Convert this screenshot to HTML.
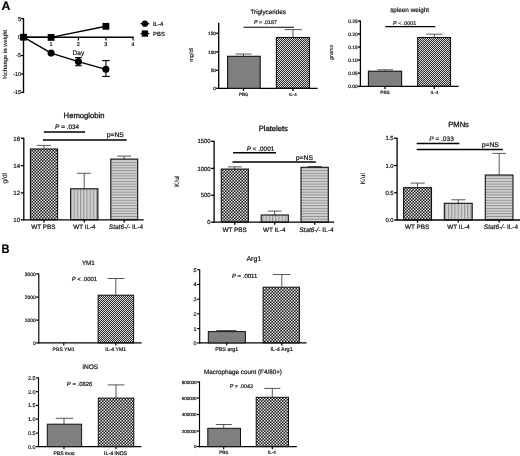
<!DOCTYPE html>
<html lang="en">
<head>
<meta charset="utf-8">
<title>Figure: IL-4 treatment effects</title>
<style>
html,body{margin:0;padding:0;background:#fff;}
body{width:520px;height:456px;overflow:hidden;}
svg text{stroke:#111;stroke-width:0.2px;stroke-linejoin:round;}
svg .ink{filter:blur(0.35px);}
svg .pat{filter:blur(0.18px);}
svg{display:block;font-family:'Liberation Sans', sans-serif;}
</style>
</head>
<body>
<svg width="520" height="456" viewBox="0 0 520 456" text-rendering="geometricPrecision">
<rect width="520" height="456" fill="#ffffff"/>
<defs>
<pattern id="ck1" width="2" height="2" patternUnits="userSpaceOnUse"><rect width="2" height="2" fill="#303030"/><rect x="0" y="0" width="1" height="1" fill="#d6d6d6"/><rect x="1" y="1" width="1" height="1" fill="#d6d6d6"/></pattern>
<pattern id="ck2" width="3" height="3" patternUnits="userSpaceOnUse"><rect width="3" height="3" fill="#1c1c1c"/><rect x="0" y="0" width="1.45" height="1.45" fill="#f0f0f0"/><rect x="1.5" y="1.5" width="1.45" height="1.45" fill="#f0f0f0"/></pattern>
<pattern id="vl" width="3.2" height="3.2" patternUnits="userSpaceOnUse"><rect width="3.2" height="3.2" fill="#d0d0d0"/><rect x="0" y="0" width="1.1" height="3.2" fill="#969696"/></pattern>
<pattern id="hl" width="2.7" height="2.7" patternUnits="userSpaceOnUse"><rect width="2.7" height="2.7" fill="#d2d2d2"/><rect x="0" y="0" width="2.7" height="0.95" fill="#909090"/></pattern>
</defs>
<g class="pat"><rect x="276.40" y="37.50" width="33.10" height="50.80" fill="url(#ck1)"/>
<rect x="417.70" y="37.50" width="32.80" height="48.90" fill="url(#ck1)"/>
<rect x="30.40" y="149.00" width="27.20" height="70.80" fill="url(#ck2)"/>
<rect x="70.60" y="188.80" width="27.30" height="31.00" fill="url(#vl)"/>
<rect x="110.80" y="159.10" width="26.90" height="60.70" fill="url(#hl)"/>
<rect x="221.30" y="169.10" width="27.10" height="53.10" fill="url(#ck2)"/>
<rect x="261.20" y="215.00" width="27.10" height="7.20" fill="url(#vl)"/>
<rect x="301.00" y="167.30" width="27.30" height="54.90" fill="url(#hl)"/>
<rect x="403.60" y="187.70" width="27.90" height="32.30" fill="url(#ck2)"/>
<rect x="444.30" y="203.30" width="27.90" height="16.70" fill="url(#vl)"/>
<rect x="485.30" y="175.00" width="27.70" height="45.00" fill="url(#hl)"/>
<rect x="98.10" y="295.20" width="35.50" height="47.70" fill="url(#ck1)"/>
<rect x="263.10" y="287.20" width="36.30" height="55.70" fill="url(#ck2)"/>
<rect x="98.30" y="398.10" width="35.50" height="48.50" fill="url(#ck2)"/>
<rect x="256.20" y="397.30" width="32.30" height="49.30" fill="url(#ck2)"/></g>
<g class="ink"><text x="1.5" y="9.75" font-size="12.3" font-weight="bold" fill="#000">A</text>
<text transform="translate(1.4 252.55) scale(0.9 1)" font-size="12.3" font-weight="bold" fill="#000">B</text>
<line x1="23.50" y1="18.00" x2="23.50" y2="93.00" stroke="#000" stroke-width="1.4" stroke-linecap="butt"/>
<line x1="20.80" y1="18.60" x2="23.50" y2="18.60" stroke="#000" stroke-width="1.2" stroke-linecap="butt"/>
<text x="21.10" y="20.58" font-size="5.5" text-anchor="end" fill="#111">5</text>
<line x1="20.80" y1="37.20" x2="23.50" y2="37.20" stroke="#000" stroke-width="1.2" stroke-linecap="butt"/>
<text x="21.10" y="39.18" font-size="5.5" text-anchor="end" fill="#111">0</text>
<line x1="20.80" y1="55.50" x2="23.50" y2="55.50" stroke="#000" stroke-width="1.2" stroke-linecap="butt"/>
<text x="21.10" y="57.48" font-size="5.5" text-anchor="end" fill="#111">-5</text>
<line x1="20.80" y1="74.00" x2="23.50" y2="74.00" stroke="#000" stroke-width="1.2" stroke-linecap="butt"/>
<text x="21.10" y="75.98" font-size="5.5" text-anchor="end" fill="#111">-10</text>
<line x1="20.80" y1="92.40" x2="23.50" y2="92.40" stroke="#000" stroke-width="1.2" stroke-linecap="butt"/>
<text x="21.10" y="94.38" font-size="5.5" text-anchor="end" fill="#111">-15</text>
<line x1="23.00" y1="37.20" x2="133.70" y2="37.20" stroke="#000" stroke-width="1.4" stroke-linecap="butt"/>
<line x1="51.10" y1="37.20" x2="51.10" y2="40.40" stroke="#000" stroke-width="1.2" stroke-linecap="butt"/>
<text x="51.10" y="45.88" font-size="5.5" text-anchor="middle" fill="#111">1</text>
<line x1="78.40" y1="37.20" x2="78.40" y2="40.40" stroke="#000" stroke-width="1.2" stroke-linecap="butt"/>
<text x="78.40" y="45.88" font-size="5.5" text-anchor="middle" fill="#111">2</text>
<line x1="105.90" y1="37.20" x2="105.90" y2="40.40" stroke="#000" stroke-width="1.2" stroke-linecap="butt"/>
<text x="105.90" y="45.88" font-size="5.5" text-anchor="middle" fill="#111">3</text>
<line x1="133.10" y1="37.20" x2="133.10" y2="40.40" stroke="#000" stroke-width="1.2" stroke-linecap="butt"/>
<text x="133.10" y="45.88" font-size="5.5" text-anchor="middle" fill="#111">4</text>
<text x="78.40" y="55.04" font-size="6.5" text-anchor="middle" fill="#111">Day</text>
<text transform="translate(6.72 54.50) rotate(-90)" style="stroke-width:0.1px" font-size="5.9" text-anchor="middle" fill="#111">%change in weight</text>
<polyline fill="none" stroke="#000" stroke-width="1.4" points="23.5,37.2 51.1,53.1 78.4,61.6 105.9,69.3"/>
<line x1="78.40" y1="57.60" x2="78.40" y2="65.70" stroke="#000" stroke-width="1.1" stroke-linecap="butt"/>
<line x1="75.00" y1="57.60" x2="81.80" y2="57.60" stroke="#000" stroke-width="1.1" stroke-linecap="butt"/>
<line x1="75.00" y1="65.70" x2="81.80" y2="65.70" stroke="#000" stroke-width="1.1" stroke-linecap="butt"/>
<line x1="105.90" y1="60.60" x2="105.90" y2="76.40" stroke="#000" stroke-width="1.1" stroke-linecap="butt"/>
<line x1="102.10" y1="60.60" x2="109.80" y2="60.60" stroke="#000" stroke-width="1.1" stroke-linecap="butt"/>
<line x1="102.10" y1="76.40" x2="109.80" y2="76.40" stroke="#000" stroke-width="1.1" stroke-linecap="butt"/>
<circle cx="51.1" cy="53.1" r="3.55" fill="#000"/>
<circle cx="78.4" cy="61.6" r="3.55" fill="#000"/>
<circle cx="105.9" cy="69.3" r="3.55" fill="#000"/>
<polyline fill="none" stroke="#000" stroke-width="1.4" points="23.5,37.2 51.1,37.4 105.9,26.3"/>
<rect x="20.10" y="33.80" width="6.8" height="6.8" fill="#000"/>
<rect x="47.70" y="34.00" width="6.8" height="6.8" fill="#000"/>
<rect x="102.50" y="22.90" width="6.8" height="6.8" fill="#000"/>
<line x1="140.60" y1="23.70" x2="149.30" y2="23.70" stroke="#000" stroke-width="1.3" stroke-linecap="butt"/>
<circle cx="144.9" cy="23.7" r="3.15" fill="#000"/>
<text x="152.90" y="25.96" font-size="6.0" text-anchor="start" fill="#111">IL-4</text>
<line x1="140.60" y1="33.55" x2="149.30" y2="33.55" stroke="#000" stroke-width="1.3" stroke-linecap="butt"/>
<rect x="141.75" y="30.4" width="6.3" height="6.3" fill="#000"/>
<text x="153.10" y="35.72" font-size="5.9" text-anchor="start" fill="#111">PBS</text>
<line x1="218.70" y1="22.70" x2="218.70" y2="88.85" stroke="#000" stroke-width="1.3" stroke-linecap="butt"/>
<line x1="218.15" y1="88.30" x2="317.60" y2="88.30" stroke="#000" stroke-width="1.3" stroke-linecap="butt"/>
<line x1="216.10" y1="88.30" x2="218.70" y2="88.30" stroke="#000" stroke-width="1.3" stroke-linecap="butt"/>
<text x="215.90" y="89.99" font-size="4.7" text-anchor="end" fill="#111">0</text>
<line x1="216.10" y1="70.30" x2="218.70" y2="70.30" stroke="#000" stroke-width="1.3" stroke-linecap="butt"/>
<text x="215.90" y="71.99" font-size="4.7" text-anchor="end" fill="#111">50</text>
<line x1="216.10" y1="51.90" x2="218.70" y2="51.90" stroke="#000" stroke-width="1.3" stroke-linecap="butt"/>
<text x="215.90" y="53.59" font-size="4.7" text-anchor="end" fill="#111">100</text>
<line x1="216.10" y1="33.30" x2="218.70" y2="33.30" stroke="#000" stroke-width="1.3" stroke-linecap="butt"/>
<text x="215.90" y="34.99" font-size="4.7" text-anchor="end" fill="#111">150</text>
<line x1="243.50" y1="88.30" x2="243.50" y2="90.90" stroke="#000" stroke-width="1.3" stroke-linecap="butt"/>
<line x1="293.00" y1="88.30" x2="293.00" y2="90.90" stroke="#000" stroke-width="1.3" stroke-linecap="butt"/>
<text transform="translate(192.72 55.00) rotate(-90)" style="stroke-width:0.1px" font-size="5.6" text-anchor="middle" fill="#111">mg/dl</text>
<text x="268.20" y="13.77" font-size="6.3" text-anchor="middle" fill="#111">Triglycerides</text>
<text x="265.40" y="23.73" font-size="5.35" text-anchor="middle" fill="#111"><tspan font-style="italic">P</tspan> = .0187</text>
<line x1="243.50" y1="27.30" x2="294.00" y2="27.30" stroke="#000" stroke-width="1.05" stroke-linecap="butt"/>
<line x1="243.50" y1="54.00" x2="243.50" y2="56.20" stroke="#3a3a3a" stroke-width="0.85" stroke-linecap="butt"/>
<line x1="235.40" y1="54.00" x2="251.50" y2="54.00" stroke="#3a3a3a" stroke-width="0.85" stroke-linecap="butt"/>
<rect x="227.60" y="56.30" width="32.60" height="32.00" fill="#7f7f7f" stroke="#111" stroke-width="1.1"/>
<line x1="293.00" y1="29.60" x2="293.00" y2="37.50" stroke="#3a3a3a" stroke-width="0.85" stroke-linecap="butt"/>
<line x1="284.60" y1="29.60" x2="301.80" y2="29.60" stroke="#3a3a3a" stroke-width="0.85" stroke-linecap="butt"/>
<rect x="276.40" y="37.50" width="33.10" height="50.80" fill="none" stroke="#111" stroke-width="1.1"/>
<text x="243.50" y="95.66" font-size="4.6" text-anchor="middle" fill="#111">PBS</text>
<text x="293.00" y="95.58" font-size="4.4" text-anchor="middle" fill="#111">IL-4</text>
<line x1="360.40" y1="20.50" x2="360.40" y2="86.95" stroke="#000" stroke-width="1.3" stroke-linecap="butt"/>
<line x1="359.85" y1="86.40" x2="458.60" y2="86.40" stroke="#000" stroke-width="1.3" stroke-linecap="butt"/>
<line x1="357.80" y1="86.40" x2="360.40" y2="86.40" stroke="#000" stroke-width="1.3" stroke-linecap="butt"/>
<text x="357.60" y="88.13" font-size="4.8" text-anchor="end" fill="#111">0.00</text>
<line x1="357.80" y1="73.10" x2="360.40" y2="73.10" stroke="#000" stroke-width="1.3" stroke-linecap="butt"/>
<text x="357.60" y="74.83" font-size="4.8" text-anchor="end" fill="#111">0.05</text>
<line x1="357.80" y1="60.00" x2="360.40" y2="60.00" stroke="#000" stroke-width="1.3" stroke-linecap="butt"/>
<text x="357.60" y="61.73" font-size="4.8" text-anchor="end" fill="#111">0.10</text>
<line x1="357.80" y1="47.00" x2="360.40" y2="47.00" stroke="#000" stroke-width="1.3" stroke-linecap="butt"/>
<text x="357.60" y="48.73" font-size="4.8" text-anchor="end" fill="#111">0.15</text>
<line x1="357.80" y1="34.00" x2="360.40" y2="34.00" stroke="#000" stroke-width="1.3" stroke-linecap="butt"/>
<text x="357.60" y="35.73" font-size="4.8" text-anchor="end" fill="#111">0.20</text>
<line x1="357.80" y1="21.00" x2="360.40" y2="21.00" stroke="#000" stroke-width="1.3" stroke-linecap="butt"/>
<text x="357.60" y="22.73" font-size="4.8" text-anchor="end" fill="#111">0.25</text>
<line x1="385.00" y1="86.40" x2="385.00" y2="89.00" stroke="#000" stroke-width="1.3" stroke-linecap="butt"/>
<line x1="434.30" y1="86.40" x2="434.30" y2="89.00" stroke="#000" stroke-width="1.3" stroke-linecap="butt"/>
<text transform="translate(333.24 52.40) rotate(-90)" style="stroke-width:0.1px" font-size="5.4" text-anchor="middle" fill="#111" font-style="italic">grams</text>
<text x="409.60" y="11.79" font-size="6.35" text-anchor="middle" fill="#111">spleen weight</text>
<text x="404.60" y="24.53" font-size="5.35" text-anchor="middle" fill="#111"><tspan font-style="italic">P</tspan> &lt; .0001</text>
<line x1="385.30" y1="26.60" x2="435.30" y2="26.60" stroke="#000" stroke-width="1.05" stroke-linecap="butt"/>
<line x1="385.00" y1="69.80" x2="385.00" y2="71.20" stroke="#3a3a3a" stroke-width="0.85" stroke-linecap="butt"/>
<line x1="377.40" y1="69.80" x2="393.00" y2="69.80" stroke="#3a3a3a" stroke-width="0.85" stroke-linecap="butt"/>
<rect x="368.40" y="71.20" width="33.20" height="15.20" fill="#7f7f7f" stroke="#111" stroke-width="1.1"/>
<line x1="434.30" y1="34.20" x2="434.30" y2="37.50" stroke="#3a3a3a" stroke-width="0.85" stroke-linecap="butt"/>
<line x1="426.30" y1="34.20" x2="442.40" y2="34.20" stroke="#3a3a3a" stroke-width="0.85" stroke-linecap="butt"/>
<rect x="417.70" y="37.50" width="32.80" height="48.90" fill="none" stroke="#111" stroke-width="1.1"/>
<text x="385.00" y="93.69" font-size="4.7" text-anchor="middle" fill="#111">PBS</text>
<text x="434.30" y="93.62" font-size="4.5" text-anchor="middle" fill="#111">IL-4</text>
<line x1="23.80" y1="137.80" x2="23.80" y2="220.35" stroke="#000" stroke-width="1.3" stroke-linecap="butt"/>
<line x1="23.25" y1="219.80" x2="143.70" y2="219.80" stroke="#000" stroke-width="1.3" stroke-linecap="butt"/>
<line x1="20.80" y1="219.80" x2="23.80" y2="219.80" stroke="#000" stroke-width="1.3" stroke-linecap="butt"/>
<text x="20.10" y="222.03" font-size="6.2" text-anchor="end" fill="#111">10</text>
<line x1="20.80" y1="192.90" x2="23.80" y2="192.90" stroke="#000" stroke-width="1.3" stroke-linecap="butt"/>
<text x="20.10" y="195.13" font-size="6.2" text-anchor="end" fill="#111">12</text>
<line x1="20.80" y1="165.60" x2="23.80" y2="165.60" stroke="#000" stroke-width="1.3" stroke-linecap="butt"/>
<text x="20.10" y="167.83" font-size="6.2" text-anchor="end" fill="#111">14</text>
<line x1="20.80" y1="138.30" x2="23.80" y2="138.30" stroke="#000" stroke-width="1.3" stroke-linecap="butt"/>
<text x="20.10" y="140.53" font-size="6.2" text-anchor="end" fill="#111">16</text>
<line x1="44.00" y1="219.80" x2="44.00" y2="222.40" stroke="#000" stroke-width="1.3" stroke-linecap="butt"/>
<line x1="84.30" y1="219.80" x2="84.30" y2="222.40" stroke="#000" stroke-width="1.3" stroke-linecap="butt"/>
<line x1="124.20" y1="219.80" x2="124.20" y2="222.40" stroke="#000" stroke-width="1.3" stroke-linecap="butt"/>
<text transform="translate(6.68 178.30) rotate(-90)" style="stroke-width:0.1px" font-size="6.6" text-anchor="middle" fill="#111">g/dl</text>
<text x="84.00" y="117.85" font-size="7.65" text-anchor="middle" fill="#111" style="stroke-width:0.3px">Hemoglobin</text>
<text x="67.10" y="128.50" font-size="6.4" text-anchor="middle" fill="#111"><tspan font-style="italic">P</tspan> = .034</text>
<line x1="43.80" y1="131.90" x2="85.10" y2="131.90" stroke="#000" stroke-width="1.45" stroke-linecap="butt"/>
<line x1="42.90" y1="139.90" x2="126.70" y2="139.90" stroke="#000" stroke-width="1.45" stroke-linecap="butt"/>
<text x="115.30" y="137.25" font-size="6.8" text-anchor="middle" fill="#111">p=NS</text>
<line x1="44.00" y1="145.40" x2="44.00" y2="148.40" stroke="#3a3a3a" stroke-width="0.85" stroke-linecap="butt"/>
<line x1="36.80" y1="145.40" x2="50.80" y2="145.40" stroke="#3a3a3a" stroke-width="0.85" stroke-linecap="butt"/>
<rect x="30.40" y="149.00" width="27.20" height="70.80" fill="none" stroke="#111" stroke-width="1.1"/>
<line x1="84.20" y1="173.30" x2="84.20" y2="188.80" stroke="#3a3a3a" stroke-width="0.85" stroke-linecap="butt"/>
<line x1="77.00" y1="173.30" x2="90.80" y2="173.30" stroke="#3a3a3a" stroke-width="0.85" stroke-linecap="butt"/>
<rect x="70.60" y="188.80" width="27.30" height="31.00" fill="none" stroke="#111" stroke-width="1.1"/>
<line x1="124.20" y1="156.10" x2="124.20" y2="159.10" stroke="#3a3a3a" stroke-width="0.85" stroke-linecap="butt"/>
<line x1="117.20" y1="156.10" x2="131.10" y2="156.10" stroke="#3a3a3a" stroke-width="0.85" stroke-linecap="butt"/>
<rect x="110.80" y="159.10" width="26.90" height="60.70" fill="none" stroke="#111" stroke-width="1.1"/>
<text x="43.40" y="229.20" font-size="6.4" text-anchor="middle" fill="#111">WT PBS</text>
<text x="84.40" y="229.19" font-size="6.35" text-anchor="middle" fill="#111">WT IL-4</text>
<text x="126.00" y="229.24" font-size="6.5" text-anchor="middle" fill="#111"><tspan font-style="italic">Stat6-/-</tspan> IL-4</text>
<line x1="214.10" y1="140.80" x2="214.10" y2="222.75" stroke="#000" stroke-width="1.3" stroke-linecap="butt"/>
<line x1="213.55" y1="222.20" x2="334.20" y2="222.20" stroke="#000" stroke-width="1.3" stroke-linecap="butt"/>
<line x1="211.10" y1="222.20" x2="214.10" y2="222.20" stroke="#000" stroke-width="1.3" stroke-linecap="butt"/>
<text x="210.60" y="224.34" font-size="5.95" text-anchor="end" fill="#111">0</text>
<line x1="211.10" y1="195.30" x2="214.10" y2="195.30" stroke="#000" stroke-width="1.3" stroke-linecap="butt"/>
<text x="210.60" y="197.44" font-size="5.95" text-anchor="end" fill="#111">500</text>
<line x1="211.10" y1="168.40" x2="214.10" y2="168.40" stroke="#000" stroke-width="1.3" stroke-linecap="butt"/>
<text x="210.60" y="170.54" font-size="5.95" text-anchor="end" fill="#111">1000</text>
<line x1="211.10" y1="141.30" x2="214.10" y2="141.30" stroke="#000" stroke-width="1.3" stroke-linecap="butt"/>
<text x="210.60" y="143.44" font-size="5.95" text-anchor="end" fill="#111">1500</text>
<line x1="234.70" y1="222.20" x2="234.70" y2="224.80" stroke="#000" stroke-width="1.3" stroke-linecap="butt"/>
<line x1="274.70" y1="222.20" x2="274.70" y2="224.80" stroke="#000" stroke-width="1.3" stroke-linecap="butt"/>
<line x1="314.70" y1="222.20" x2="314.70" y2="224.80" stroke="#000" stroke-width="1.3" stroke-linecap="butt"/>
<text transform="translate(178.84 181.30) rotate(-90)" style="stroke-width:0.1px" font-size="6.5" text-anchor="middle" fill="#111">K/ul</text>
<text x="273.30" y="130.84" font-size="7.6" text-anchor="middle" fill="#111" style="stroke-width:0.3px">Platelets</text>
<text x="260.50" y="150.90" font-size="6.4" text-anchor="middle" fill="#111"><tspan font-style="italic">P</tspan> &lt; .0001</text>
<line x1="233.00" y1="152.80" x2="276.00" y2="152.80" stroke="#000" stroke-width="1.5" stroke-linecap="butt"/>
<line x1="232.50" y1="162.10" x2="315.80" y2="162.10" stroke="#000" stroke-width="1.5" stroke-linecap="butt"/>
<text x="304.40" y="159.75" font-size="6.8" text-anchor="middle" fill="#111">p=NS</text>
<line x1="234.70" y1="166.90" x2="234.70" y2="169.10" stroke="#3a3a3a" stroke-width="0.85" stroke-linecap="butt"/>
<line x1="228.00" y1="166.90" x2="241.70" y2="166.90" stroke="#3a3a3a" stroke-width="0.85" stroke-linecap="butt"/>
<rect x="221.30" y="169.10" width="27.10" height="53.10" fill="none" stroke="#111" stroke-width="1.1"/>
<line x1="274.70" y1="211.10" x2="274.70" y2="215.00" stroke="#3a3a3a" stroke-width="0.85" stroke-linecap="butt"/>
<line x1="267.70" y1="211.10" x2="281.40" y2="211.10" stroke="#3a3a3a" stroke-width="0.85" stroke-linecap="butt"/>
<rect x="261.20" y="215.00" width="27.10" height="7.20" fill="none" stroke="#111" stroke-width="1.1"/>
<line x1="314.70" y1="166.50" x2="314.70" y2="167.30" stroke="#3a3a3a" stroke-width="0.85" stroke-linecap="butt"/>
<line x1="307.70" y1="166.50" x2="321.80" y2="166.50" stroke="#3a3a3a" stroke-width="0.85" stroke-linecap="butt"/>
<rect x="301.00" y="167.30" width="27.30" height="54.90" fill="none" stroke="#111" stroke-width="1.1"/>
<text x="234.70" y="231.80" font-size="6.4" text-anchor="middle" fill="#111">WT PBS</text>
<text x="274.30" y="231.79" font-size="6.35" text-anchor="middle" fill="#111">WT IL-4</text>
<text x="316.40" y="231.84" font-size="6.5" text-anchor="middle" fill="#111"><tspan font-style="italic">Stat6-/-</tspan> IL-4</text>
<line x1="397.10" y1="137.70" x2="397.10" y2="220.55" stroke="#000" stroke-width="1.3" stroke-linecap="butt"/>
<line x1="396.55" y1="220.00" x2="520.50" y2="220.00" stroke="#000" stroke-width="1.3" stroke-linecap="butt"/>
<line x1="394.10" y1="220.00" x2="397.10" y2="220.00" stroke="#000" stroke-width="1.3" stroke-linecap="butt"/>
<text x="393.60" y="222.12" font-size="5.9" text-anchor="end" fill="#111">0.0</text>
<line x1="394.10" y1="192.80" x2="397.10" y2="192.80" stroke="#000" stroke-width="1.3" stroke-linecap="butt"/>
<text x="393.60" y="194.92" font-size="5.9" text-anchor="end" fill="#111">0.5</text>
<line x1="394.10" y1="165.50" x2="397.10" y2="165.50" stroke="#000" stroke-width="1.3" stroke-linecap="butt"/>
<text x="393.60" y="167.62" font-size="5.9" text-anchor="end" fill="#111">1.0</text>
<line x1="394.10" y1="138.20" x2="397.10" y2="138.20" stroke="#000" stroke-width="1.3" stroke-linecap="butt"/>
<text x="393.60" y="140.32" font-size="5.9" text-anchor="end" fill="#111">1.5</text>
<line x1="417.50" y1="220.00" x2="417.50" y2="222.60" stroke="#000" stroke-width="1.3" stroke-linecap="butt"/>
<line x1="458.30" y1="220.00" x2="458.30" y2="222.60" stroke="#000" stroke-width="1.3" stroke-linecap="butt"/>
<line x1="499.20" y1="220.00" x2="499.20" y2="222.60" stroke="#000" stroke-width="1.3" stroke-linecap="butt"/>
<text transform="translate(365.44 178.70) rotate(-90)" style="stroke-width:0.1px" font-size="6.5" text-anchor="middle" fill="#111">K/ul</text>
<text x="458.60" y="126.84" font-size="7.6" text-anchor="middle" fill="#111" style="stroke-width:0.3px">PMNs</text>
<text x="441.50" y="141.16" font-size="6.55" text-anchor="middle" fill="#111"><tspan font-style="italic">P</tspan> = .033</text>
<line x1="416.70" y1="143.50" x2="459.40" y2="143.50" stroke="#000" stroke-width="1.45" stroke-linecap="butt"/>
<line x1="416.70" y1="149.40" x2="502.90" y2="149.40" stroke="#000" stroke-width="1.45" stroke-linecap="butt"/>
<text x="490.30" y="146.75" font-size="6.8" text-anchor="middle" fill="#111">p=NS</text>
<line x1="417.50" y1="183.10" x2="417.50" y2="187.70" stroke="#3a3a3a" stroke-width="0.85" stroke-linecap="butt"/>
<line x1="410.60" y1="183.10" x2="424.70" y2="183.10" stroke="#3a3a3a" stroke-width="0.85" stroke-linecap="butt"/>
<rect x="403.60" y="187.70" width="27.90" height="32.30" fill="none" stroke="#111" stroke-width="1.1"/>
<line x1="458.30" y1="199.80" x2="458.30" y2="203.30" stroke="#3a3a3a" stroke-width="0.85" stroke-linecap="butt"/>
<line x1="451.40" y1="199.80" x2="465.50" y2="199.80" stroke="#3a3a3a" stroke-width="0.85" stroke-linecap="butt"/>
<rect x="444.30" y="203.30" width="27.90" height="16.70" fill="none" stroke="#111" stroke-width="1.1"/>
<line x1="499.20" y1="153.40" x2="499.20" y2="175.00" stroke="#3a3a3a" stroke-width="0.85" stroke-linecap="butt"/>
<line x1="492.40" y1="153.40" x2="505.90" y2="153.40" stroke="#3a3a3a" stroke-width="0.85" stroke-linecap="butt"/>
<rect x="485.30" y="175.00" width="27.70" height="45.00" fill="none" stroke="#111" stroke-width="1.1"/>
<text x="417.20" y="229.20" font-size="6.4" text-anchor="middle" fill="#111">WT PBS</text>
<text x="458.60" y="229.19" font-size="6.35" text-anchor="middle" fill="#111">WT IL-4</text>
<text x="501.00" y="229.24" font-size="6.5" text-anchor="middle" fill="#111"><tspan font-style="italic">Stat6-/-</tspan> IL-4</text>
<line x1="38.80" y1="273.40" x2="38.80" y2="343.45" stroke="#000" stroke-width="1.15" stroke-linecap="butt"/>
<line x1="38.25" y1="342.90" x2="141.60" y2="342.90" stroke="#000" stroke-width="1.15" stroke-linecap="butt"/>
<line x1="36.00" y1="342.90" x2="38.80" y2="342.90" stroke="#000" stroke-width="1.15" stroke-linecap="butt"/>
<text x="35.70" y="344.66" font-size="4.9" text-anchor="end" fill="#111">0</text>
<line x1="36.00" y1="320.10" x2="38.80" y2="320.10" stroke="#000" stroke-width="1.15" stroke-linecap="butt"/>
<text x="35.70" y="321.86" font-size="4.9" text-anchor="end" fill="#111">1000</text>
<line x1="36.00" y1="297.10" x2="38.80" y2="297.10" stroke="#000" stroke-width="1.15" stroke-linecap="butt"/>
<text x="35.70" y="298.86" font-size="4.9" text-anchor="end" fill="#111">2000</text>
<line x1="36.00" y1="273.90" x2="38.80" y2="273.90" stroke="#000" stroke-width="1.15" stroke-linecap="butt"/>
<text x="35.70" y="275.66" font-size="4.9" text-anchor="end" fill="#111">3000</text>
<line x1="63.80" y1="342.90" x2="63.80" y2="345.50" stroke="#000" stroke-width="1.15" stroke-linecap="butt"/>
<line x1="115.80" y1="342.90" x2="115.80" y2="345.50" stroke="#000" stroke-width="1.15" stroke-linecap="butt"/>
<text x="88.40" y="265.17" font-size="6.3" text-anchor="middle" fill="#111">YM1</text>
<text x="84.40" y="280.72" font-size="5.9" text-anchor="middle" fill="#111"><tspan font-style="italic">P</tspan> &lt; .0001</text>
<line x1="115.80" y1="278.50" x2="115.80" y2="295.20" stroke="#3a3a3a" stroke-width="0.85" stroke-linecap="butt"/>
<line x1="107.70" y1="278.50" x2="124.40" y2="278.50" stroke="#3a3a3a" stroke-width="0.85" stroke-linecap="butt"/>
<rect x="98.10" y="295.20" width="35.50" height="47.70" fill="none" stroke="#111" stroke-width="1.0"/>
<text x="63.60" y="350.84" font-size="5.1" text-anchor="middle" fill="#111">PBS YM1</text>
<text x="115.70" y="350.87" font-size="5.2" text-anchor="middle" fill="#111">IL-4 YM1</text>
<line x1="199.70" y1="269.40" x2="199.70" y2="343.45" stroke="#000" stroke-width="1.15" stroke-linecap="butt"/>
<line x1="199.15" y1="342.90" x2="306.50" y2="342.90" stroke="#000" stroke-width="1.15" stroke-linecap="butt"/>
<line x1="197.10" y1="342.90" x2="199.70" y2="342.90" stroke="#000" stroke-width="1.15" stroke-linecap="butt"/>
<text x="196.60" y="344.84" font-size="5.4" text-anchor="end" fill="#111">0</text>
<line x1="197.10" y1="328.60" x2="199.70" y2="328.60" stroke="#000" stroke-width="1.15" stroke-linecap="butt"/>
<text x="196.60" y="330.54" font-size="5.4" text-anchor="end" fill="#111">1</text>
<line x1="197.10" y1="313.80" x2="199.70" y2="313.80" stroke="#000" stroke-width="1.15" stroke-linecap="butt"/>
<text x="196.60" y="315.74" font-size="5.4" text-anchor="end" fill="#111">2</text>
<line x1="197.10" y1="299.30" x2="199.70" y2="299.30" stroke="#000" stroke-width="1.15" stroke-linecap="butt"/>
<text x="196.60" y="301.24" font-size="5.4" text-anchor="end" fill="#111">3</text>
<line x1="197.10" y1="284.50" x2="199.70" y2="284.50" stroke="#000" stroke-width="1.15" stroke-linecap="butt"/>
<text x="196.60" y="286.44" font-size="5.4" text-anchor="end" fill="#111">4</text>
<line x1="197.10" y1="269.70" x2="199.70" y2="269.70" stroke="#000" stroke-width="1.15" stroke-linecap="butt"/>
<text x="196.60" y="271.64" font-size="5.4" text-anchor="end" fill="#111">5</text>
<line x1="226.60" y1="342.90" x2="226.60" y2="345.50" stroke="#000" stroke-width="1.15" stroke-linecap="butt"/>
<line x1="281.80" y1="342.90" x2="281.80" y2="345.50" stroke="#000" stroke-width="1.15" stroke-linecap="butt"/>
<text x="253.80" y="260.62" font-size="7.0" text-anchor="middle" fill="#111">Arg1</text>
<text x="244.60" y="278.26" font-size="6.0" text-anchor="middle" fill="#111"><tspan font-style="italic">P</tspan> = .0011</text>
<line x1="226.60" y1="330.50" x2="226.60" y2="331.60" stroke="#3a3a3a" stroke-width="0.85" stroke-linecap="butt"/>
<line x1="216.30" y1="330.50" x2="236.50" y2="330.50" stroke="#3a3a3a" stroke-width="0.85" stroke-linecap="butt"/>
<rect x="208.30" y="331.60" width="37.10" height="11.30" fill="#7f7f7f" stroke="#111" stroke-width="1.0"/>
<line x1="281.80" y1="274.50" x2="281.80" y2="286.90" stroke="#3a3a3a" stroke-width="0.85" stroke-linecap="butt"/>
<line x1="272.90" y1="274.50" x2="290.40" y2="274.50" stroke="#3a3a3a" stroke-width="0.85" stroke-linecap="butt"/>
<rect x="263.10" y="287.20" width="36.30" height="55.70" fill="none" stroke="#111" stroke-width="1.0"/>
<text x="226.70" y="350.84" font-size="5.4" text-anchor="middle" fill="#111">PBS arg1</text>
<text x="281.60" y="350.88" font-size="5.5" text-anchor="middle" fill="#111">IL-4 Arg1</text>
<line x1="38.50" y1="377.40" x2="38.50" y2="447.15" stroke="#000" stroke-width="1.15" stroke-linecap="butt"/>
<line x1="37.95" y1="446.60" x2="141.40" y2="446.60" stroke="#000" stroke-width="1.15" stroke-linecap="butt"/>
<line x1="35.90" y1="446.60" x2="38.50" y2="446.60" stroke="#000" stroke-width="1.15" stroke-linecap="butt"/>
<text x="35.50" y="448.54" font-size="5.4" text-anchor="end" fill="#111">0.0</text>
<line x1="35.90" y1="433.10" x2="38.50" y2="433.10" stroke="#000" stroke-width="1.15" stroke-linecap="butt"/>
<text x="35.50" y="435.04" font-size="5.4" text-anchor="end" fill="#111">0.5</text>
<line x1="35.90" y1="419.10" x2="38.50" y2="419.10" stroke="#000" stroke-width="1.15" stroke-linecap="butt"/>
<text x="35.50" y="421.04" font-size="5.4" text-anchor="end" fill="#111">1.0</text>
<line x1="35.90" y1="405.40" x2="38.50" y2="405.40" stroke="#000" stroke-width="1.15" stroke-linecap="butt"/>
<text x="35.50" y="407.34" font-size="5.4" text-anchor="end" fill="#111">1.5</text>
<line x1="35.90" y1="391.70" x2="38.50" y2="391.70" stroke="#000" stroke-width="1.15" stroke-linecap="butt"/>
<text x="35.50" y="393.64" font-size="5.4" text-anchor="end" fill="#111">2.0</text>
<line x1="35.90" y1="377.90" x2="38.50" y2="377.90" stroke="#000" stroke-width="1.15" stroke-linecap="butt"/>
<text x="35.50" y="379.84" font-size="5.4" text-anchor="end" fill="#111">2.5</text>
<line x1="64.00" y1="446.60" x2="64.00" y2="449.20" stroke="#000" stroke-width="1.15" stroke-linecap="butt"/>
<line x1="116.00" y1="446.60" x2="116.00" y2="449.20" stroke="#000" stroke-width="1.15" stroke-linecap="butt"/>
<text x="90.40" y="368.98" font-size="6.6" text-anchor="middle" fill="#111">iNOS</text>
<text x="79.60" y="385.94" font-size="5.95" text-anchor="middle" fill="#111"><tspan font-style="italic">P</tspan> = .0826</text>
<line x1="64.00" y1="418.30" x2="64.00" y2="424.20" stroke="#3a3a3a" stroke-width="0.85" stroke-linecap="butt"/>
<line x1="55.70" y1="418.30" x2="73.20" y2="418.30" stroke="#3a3a3a" stroke-width="0.85" stroke-linecap="butt"/>
<rect x="47.30" y="424.20" width="34.30" height="22.40" fill="#7f7f7f" stroke="#111" stroke-width="1.0"/>
<line x1="116.00" y1="384.90" x2="116.00" y2="398.10" stroke="#3a3a3a" stroke-width="0.85" stroke-linecap="butt"/>
<line x1="107.70" y1="384.90" x2="124.40" y2="384.90" stroke="#3a3a3a" stroke-width="0.85" stroke-linecap="butt"/>
<rect x="98.30" y="398.10" width="35.50" height="48.50" fill="none" stroke="#111" stroke-width="1.0"/>
<text x="64.00" y="454.65" font-size="5.15" text-anchor="middle" fill="#111">PBS inos</text>
<text x="115.60" y="454.69" font-size="5.25" text-anchor="middle" fill="#111">IL-4 iNOS</text>
<line x1="199.50" y1="381.50" x2="199.50" y2="447.15" stroke="#000" stroke-width="1.15" stroke-linecap="butt"/>
<line x1="198.95" y1="446.60" x2="296.80" y2="446.60" stroke="#000" stroke-width="1.15" stroke-linecap="butt"/>
<line x1="196.70" y1="446.60" x2="199.50" y2="446.60" stroke="#000" stroke-width="1.15" stroke-linecap="butt"/>
<text x="196.50" y="448.18" font-size="4.4" text-anchor="end" fill="#111">0</text>
<line x1="196.70" y1="431.00" x2="199.50" y2="431.00" stroke="#000" stroke-width="1.15" stroke-linecap="butt"/>
<text x="196.50" y="432.58" font-size="4.4" text-anchor="end" fill="#111">200000</text>
<line x1="196.70" y1="414.50" x2="199.50" y2="414.50" stroke="#000" stroke-width="1.15" stroke-linecap="butt"/>
<text x="196.50" y="416.08" font-size="4.4" text-anchor="end" fill="#111">400000</text>
<line x1="196.70" y1="398.10" x2="199.50" y2="398.10" stroke="#000" stroke-width="1.15" stroke-linecap="butt"/>
<text x="196.50" y="399.68" font-size="4.4" text-anchor="end" fill="#111">600000</text>
<line x1="196.70" y1="382.00" x2="199.50" y2="382.00" stroke="#000" stroke-width="1.15" stroke-linecap="butt"/>
<text x="196.50" y="383.58" font-size="4.4" text-anchor="end" fill="#111">800000</text>
<line x1="223.70" y1="446.60" x2="223.70" y2="449.20" stroke="#000" stroke-width="1.15" stroke-linecap="butt"/>
<line x1="272.30" y1="446.60" x2="272.30" y2="449.20" stroke="#000" stroke-width="1.15" stroke-linecap="butt"/>
<text x="243.00" y="373.77" font-size="6.3" text-anchor="middle" fill="#111">Macrophage count (F4/80+)</text>
<text x="241.30" y="388.24" font-size="5.4" text-anchor="middle" fill="#111"><tspan font-style="italic">P</tspan> = .0043</text>
<line x1="223.70" y1="424.50" x2="223.70" y2="428.30" stroke="#3a3a3a" stroke-width="0.85" stroke-linecap="butt"/>
<line x1="215.80" y1="424.50" x2="231.90" y2="424.50" stroke="#3a3a3a" stroke-width="0.85" stroke-linecap="butt"/>
<rect x="207.80" y="428.30" width="32.70" height="18.30" fill="#7f7f7f" stroke="#111" stroke-width="1.0"/>
<line x1="272.30" y1="388.40" x2="272.30" y2="397.30" stroke="#3a3a3a" stroke-width="0.85" stroke-linecap="butt"/>
<line x1="264.20" y1="388.40" x2="280.40" y2="388.40" stroke="#3a3a3a" stroke-width="0.85" stroke-linecap="butt"/>
<rect x="256.20" y="397.30" width="32.30" height="49.30" fill="none" stroke="#111" stroke-width="1.0"/>
<text x="223.80" y="454.26" font-size="4.6" text-anchor="middle" fill="#111">PBS</text>
<text x="271.90" y="454.29" font-size="4.7" text-anchor="middle" fill="#111">IL-4</text></g>
</svg>
</body>
</html>
